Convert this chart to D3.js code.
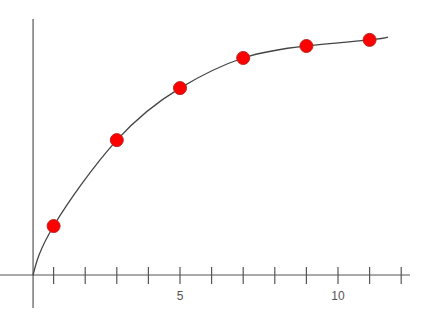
<!DOCTYPE html>
<html>
<head>
<meta charset="utf-8">
<script src="https://cdn.jsdelivr.net/npm/d3@7"></script>
<style>
  body { margin: 0; background: #fff; }
  svg { display: block; }
</style>
</head>
<body>
<svg id="chart" width="428" height="320"></svg>
<script>
// sample points (x in tick units, y in arbitrary units)
var pointX = [1, 3, 5, 7, 9, 11];
var pointY = [1.92, 5.29, 7.33, 8.51, 8.98, 9.22];

// curve passes through origin and runs a bit past the last point
var curveX = [0.35, 1, 3, 5, 7, 9, 11, 11.58];
var curveY = [0, 1.92, 5.29, 7.33, 8.51, 8.98, 9.22, 9.33];

var tickValues = [1, 2, 3, 4, 5, 6, 7, 8, 9, 10, 11, 12];
var tickLabels = { 5: "5", 10: "10" };

var svg = d3.select("#chart");

var x = d3.scaleLinear().domain([0, 10]).range([22, 338]);
var y = d3.scaleLinear().domain([0, 10]).range([275, 20]);

var axisX = x(0.35);

// x axis line
svg.append("line")
    .attr("x1", 0).attr("x2", 410)
    .attr("y1", y(0)).attr("y2", y(0))
    .attr("stroke", "#555").attr("stroke-width", 1.2);

// ticks crossing the axis
svg.selectAll(".tick")
    .data(tickValues)
    .enter()
    .append("line")
    .attr("x1", function (d) { return x(d); })
    .attr("x2", function (d) { return x(d); })
    .attr("y1", y(0) - 8)
    .attr("y2", y(0) + 9)
    .attr("stroke", "#555").attr("stroke-width", 1.2);

svg.selectAll(".lbl")
    .data(tickValues.filter(function (d) { return tickLabels[d]; }))
    .enter()
    .append("text")
    .attr("x", function (d) { return x(d); })
    .attr("y", y(0) + 25)
    .attr("text-anchor", "middle")
    .attr("font-family", "Liberation Sans, Arial, sans-serif")
    .attr("font-size", 12)
    .attr("fill", "#555")
    .text(function (d) { return tickLabels[d]; });

// y axis line
svg.append("line")
    .attr("x1", axisX).attr("x2", axisX)
    .attr("y1", 19).attr("y2", 308)
    .attr("stroke", "#555").attr("stroke-width", 1.2);

// smooth curve
var line = d3.line()
    .x(function (d) { return x(d[0]); })
    .y(function (d) { return y(d[1]); })
    .curve(d3.curveNatural);

svg.append("path")
    .datum(d3.zip(curveX, curveY))
    .attr("d", line)
    .attr("fill", "none")
    .attr("stroke", "#444")
    .attr("stroke-width", 1.3);

// red markers
svg.selectAll(".dot")
    .data(d3.zip(pointX, pointY))
    .enter()
    .append("circle")
    .attr("cx", function (d) { return x(d[0]); })
    .attr("cy", function (d) { return y(d[1]); })
    .attr("r", 6.5)
    .attr("fill", "#f00")
    .attr("stroke", "#b22")
    .attr("stroke-width", 1);
</script>
</body>
</html>
